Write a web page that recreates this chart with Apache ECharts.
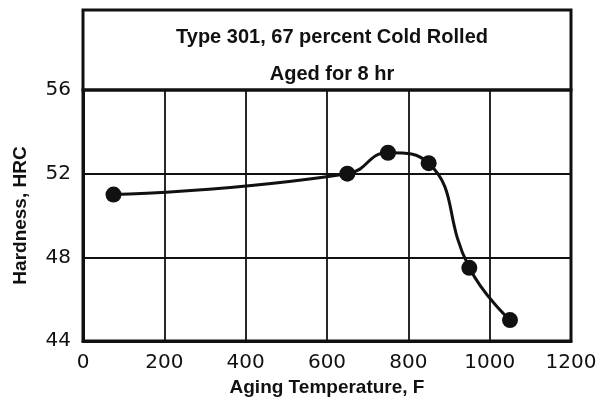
<!DOCTYPE html>
<html>
<head>
<meta charset="utf-8">
<script src="https://cdn.jsdelivr.net/npm/echarts@6/dist/echarts.min.js"></script>
<style>
  html, body { margin: 0; padding: 0; background: #fff; }
  #chart { width: 607px; height: 400px; }
</style>
</head>
<body>
<div id="chart"></div>
<script>
// values
const temps = [75, 650, 750, 850, 950, 1050];
const hardness = [51, 52, 53, 52.5, 47.5, 45];
const titleLines = ['Type 301, 67 percent Cold Rolled', 'Aged for 8 hr'];

const ink = '#111';
const font = 'Liberation Sans';
const tickFont = 'DejaVu Sans';
const chart = echarts.init(document.getElementById('chart'));

const points = temps.map((t, i) => [t, hardness[i]]);

chart.setOption({
  backgroundColor: '#fff',
  animation: false,
  title: [
    {
      text: titleLines[0],
      left: 327, top: 22, textAlign: 'center',
      textStyle: { fontFamily: font, fontWeight: 'bold', fontSize: 20, color: ink }
    },
    {
      text: titleLines[1],
      left: 327, top: 59, textAlign: 'center',
      textStyle: { fontFamily: font, fontWeight: 'bold', fontSize: 20, color: ink }
    }
  ],
  grid: {
    left: 83, right: 36, top: 90, bottom: 59,
    outerBoundsMode: 'none',
    containLabel: false,
    show: true, borderColor: ink, borderWidth: 3
  },
  graphic: [{
    type: 'rect',
    shape: { x: 83, y: 10, width: 488, height: 80 },
    style: { fill: 'none', stroke: ink, lineWidth: 3 },
    z: 10
  }],
  xAxis: {
    type: 'value',
    min: 0, max: 1200, interval: 200,
    name: 'Aging Temperature, F',
    nameLocation: 'middle', nameGap: 36,
    nameTextStyle: { fontFamily: font, fontWeight: 'bold', fontSize: 19, color: ink },
    axisLine: { lineStyle: { color: ink, width: 3 } },
    axisTick: { show: false },
    axisLabel: {
      fontFamily: tickFont, fontSize: 20, color: ink, margin: 12,
      formatter: v => String(v)
    },
    splitLine: { lineStyle: { color: ink, width: 1.8 } }
  },
  yAxis: {
    type: 'value',
    min: 44, max: 56, interval: 4,
    name: 'Hardness, HRC',
    nameLocation: 'middle', nameGap: 53,
    nameTextStyle: { fontFamily: font, fontWeight: 'bold', fontSize: 19, color: ink },
    axisLine: { lineStyle: { color: ink, width: 3 } },
    axisTick: { show: false },
    axisLabel: { fontFamily: tickFont, fontSize: 20, color: ink, margin: 12 },
    splitLine: { lineStyle: { color: ink, width: 1.8 } }
  },
  series: [{
    type: 'line',
    data: points,
    smooth: 0.5,
    symbol: 'circle',
    symbolSize: 16,
    itemStyle: { color: ink },
    lineStyle: { color: ink, width: 3 }
  }]
});
</script>
</body>
</html>
